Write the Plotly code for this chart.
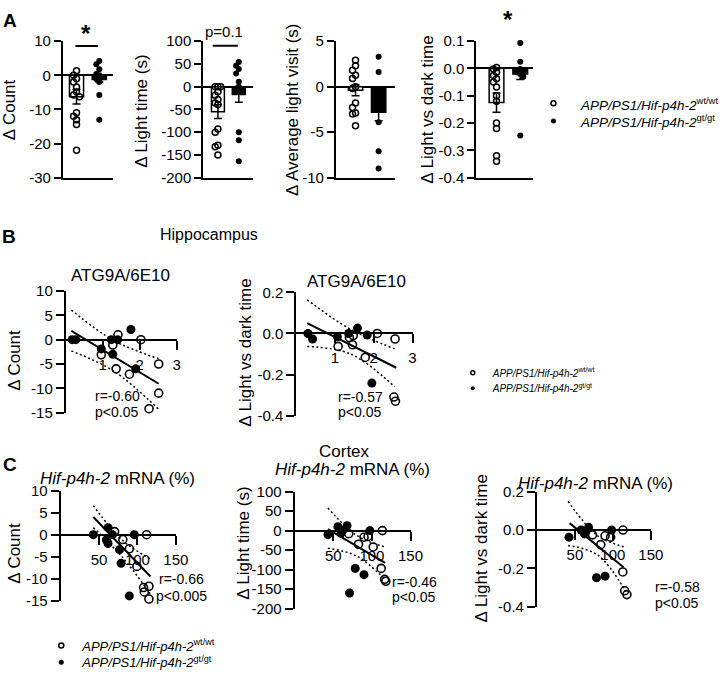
import plotly.graph_objects as go

W, H = 728, 678
FONT = "Liberation Sans, Arial, Helvetica, sans-serif"


def px(x):
    return x / W


def py(y):
    return 1 - y / H


# ======================= DATA =======================
groups = [0, 1]  # 0 = wt/wt (open), 1 = gt/gt (filled)

# ---- Panel A ----
a_count_wt = [1.3, 0.0, -1.0, -2.0, -3.4, -4.9, -5.8, -6.3, -11.0, -12.0, -13.0, -14.4, -22.0]
a_count_gt = [4.2, 3.2, 1.8, 0.4, 0.0, -0.6, -1.1, -2.0, -5.8, -13.0]
a_count_mean = [-6.3, -1.2]
a_count_sem = [2.1, 0.8]
a_count_ticks = [10, 0, -10, -20, -30]
a_count_ticktext = ["10", "0", "-10", "-20", "-30"]

a_light_wt = [0, 0, 0, -11, -19, -28, -36, -39, -93, -100, -129, -132, -150]
a_light_gt = [54, 46, 39, 29, 11, 0, -4, -7, -100, -118, -164]
a_light_mean = [-55, -17]
a_light_sem = [15, 17]
a_light_ticks = [100, 50, 0, -50, -100, -150, -200]
a_light_ticktext = ["100", "50", "0", "-50", "-100", "-150", "-200"]

a_visit_wt = [2.9, 2.3, 1.8, 1.25, 0.9, 0.0, -0.2, -1.8, -2.3, -2.9, -3.0, -4.3]
a_visit_gt = [3.3, 1.6, -3.9, -7.1, -9.0]
a_visit_mean = [-0.4, -2.8]
a_visit_sem = [0.6, 0.95]
a_visit_ticks = [5, 0, -5, -10]
a_visit_ticktext = ["5", "0", "-5", "-10"]

a_ld_wt = [0.004, -0.002, -0.014, -0.026, -0.038, -0.05, -0.068, -0.1, -0.12, -0.2, -0.22, -0.32, -0.34]
a_ld_gt = [0.093, 0.025, -0.002, -0.014, -0.02, -0.03, -0.246]
a_ld_mean = [-0.125, -0.02]
a_ld_sem = [0.035, 0.02]
a_ld_ticks = [0.1, 0.0, -0.1, -0.2, -0.3, -0.4]
a_ld_ticktext = ["0.1", "0.0", "-0.1", "-0.2", "-0.3", "-0.4"]

# ---- Panel B (Hippocampus, ATG9A/6E10) ----
b1_gt_x = [0.17, 0.27, 0.96, 1.23, 1.27, 1.40, 1.76, 1.89]
b1_gt_y = [0.0, 0.0, -1.9, 0.0, -3.0, 0.0, 2.1, -6.0]
b1_wt_x = [0.96, 1.27, 1.41, 1.36, 1.72, 2.03, 2.51, 2.51, 2.25]
b1_wt_y = [-3.1, -1.1, 1.0, -6.0, -7.1, 0.0, -5.0, -11.0, -14.2]
b1_fit_x = [0.15, 2.51]
b1_fit_y = [1.8, -9.06]
b1_ci_x = [0.15, 1.3, 2.51]
b1_ci_hi = [6.1, -0.2, -3.9]
b1_ci_lo = [-2.3, -6.5, -14.3]
b_x_ticks = [1, 2, 3]
b_x_ticktext = ["1", "2", "3"]
b1_y_ticks = [10, 5, 0, -5, -10, -15]
b1_y_ticktext = ["10", "5", "0", "-5", "-10", "-15"]

b2_gt_x = [0.30, 0.42, 1.06, 1.35, 1.58, 1.83, 1.95]
b2_gt_y = [0.0, -0.027, -0.016, 0.0, 0.026, -0.008, -0.242]
b2_wt_x = [1.08, 1.37, 1.47, 1.45, 1.78, 2.09, 2.55, 2.52, 2.56]
b2_wt_y = [-0.063, -0.02, -0.01, -0.055, -0.117, 0.0, -0.027, -0.31, -0.33]
b2_fit_x = [0.28, 2.58]
b2_fit_y = [0.05, -0.167]
b2_ci_x = [0.28, 1.4, 2.54]
b2_ci_hi = [0.164, 0.02, -0.075]
b2_ci_lo = [-0.063, -0.1, -0.26]
b2_y_ticks = [0.2, 0.0, -0.2, -0.4]
b2_y_ticktext = ["0.2", "0.0", "-0.2", "-0.4"]

# ---- Panel C (Cortex, Hif-p4h-2 mRNA %) ----
c_x_ticks = [50, 100, 150]
c_x_ticktext = ["50", "100", "150"]

c1_gt_x = [42.6, 61.8, 59.6, 61.8, 67.5, 76.7, 78.8, 95.9, 89.5]
c1_gt_y = [0.0, 1.6, -1.2, -2.0, 0.0, -3.4, -6.5, 0.0, -13.9]
c1_wt_x = [70.3, 81.0, 89.5, 99.3, 112.0, 115.0, 108.0, 109.0, 115.0]
c1_wt_y = [0.7, -1.1, -3.2, -7.2, 0.0, -11.7, -12.0, -13.0, -14.6]
c1_fit_x = [42.6, 117.0]
c1_fit_y = [4.0, -9.5]
c1_ci_x = [42.6, 80.0, 117.0]
c1_ci_hi = [6.6, -1.2, -5.5]
c1_ci_lo = [1.6, -5.0, -13.5]
c1_y_ticks = [10, 5, 0, -5, -10, -15]
c1_y_ticktext = ["10", "5", "0", "-5", "-10", "-15"]

c2_gt_x = [43.2, 56.0, 60.0, 62.0, 67.8, 78.4, 89.8, 97.4, 71.0]
c2_gt_y = [-10, 10, -7, 0, 12.5, -97, -113, 0, -160]
c2_wt_x = [70.0, 82.6, 89.8, 95.0, 101.7, 112.0, 113.5, 116.5, 118.0]
c2_wt_y = [-8, -35, -17, -15, -42, -97, 0, -125, -130]
c2_fit_x = [43.0, 117.0]
c2_fit_y = [4.0, -83.0]
c2_ci_x = [43.0, 80.0, 117.0]
c2_ci_hi = [58.0, -12.0, -42.0]
c2_ci_lo = [-45.0, -65.0, -125.0]
c2_y_ticks = [100, 50, 0, -50, -100, -150, -200]
c2_y_ticktext = ["100", "50", "0", "-50", "-100", "-150", "-200"]

c3_gt_x = [42.2, 58.2, 62.5, 68.0, 64.0, 78.4, 89.7, 98.3]
c3_gt_y = [-0.037, 0.0, -0.02, 0.014, -0.01, -0.248, -0.24, 0.0]
c3_wt_x = [73.2, 84.0, 89.7, 97.0, 113.3, 113.0, 115.5, 118.5]
c3_wt_y = [-0.025, -0.076, -0.03, -0.037, 0.0, -0.218, -0.316, -0.336]
c3_fit_x = [43.0, 114.0]
c3_fit_y = [0.036, -0.194]
c3_ci_x = [41.0, 80.0, 117.0]
c3_ci_hi = [0.149, -0.03, -0.09]
c3_ci_lo = [-0.08, -0.13, -0.32]
c3_y_ticks = [0.2, 0.0, -0.2, -0.4]
c3_y_ticktext = ["0.2", "0.0", "-0.2", "-0.4"]

legend_wt = "<i>APP/PS1/Hif-p4h-2</i><sup>wt/wt</sup>"
legend_gt = "<i>APP/PS1/Hif-p4h-2</i><sup>gt/gt</sup>"

# ======================= FIGURE =======================
fig = go.Figure()
layout = {}
annotations = []
shapes = []


def refs(n):
    return ("x" if n == 1 else f"x{n}"), ("y" if n == 1 else f"y{n}")


def keys(n):
    return ("xaxis" if n == 1 else f"xaxis{n}"), ("yaxis" if n == 1 else f"yaxis{n}")


def ann(text, x, y, size=14, **kw):
    d = dict(text=text, x=px(x), y=py(y), xref="paper", yref="paper",
             showarrow=False, font=dict(size=size, color="black", family=FONT),
             xanchor="center", yanchor="middle")
    d.update(kw)
    annotations.append(d)


def swarm(vals, span, step, gap):
    offs = []
    cands = [0, -1, 1, -2, 2, -3, 3]
    for i, v in enumerate(vals):
        taken = [o for o, w in zip(offs, vals[:i]) if abs(w - v) < gap * span]
        k = 0
        for c in cands:
            if all(abs(c * step - t) > 1e-9 for t in taken):
                k = c
                break
        offs.append(k * step)
    return offs


def bar_panel(n, xdom, ydom, xr, yr, wt, gt, mean, sem, ticks, ticktext):
    xref, yref = refs(n)
    xk, yk = keys(n)
    layout[xk] = dict(domain=[px(xdom[0]), px(xdom[1])], range=xr, anchor=yref,
                      showline=True, linecolor="black", linewidth=2, ticks="",
                      showticklabels=False, showgrid=False, zeroline=False, fixedrange=True)
    layout[yk] = dict(domain=[py(ydom[1]), py(ydom[0])], range=yr, anchor=xref,
                      showline=True, linecolor="black", linewidth=2, ticks="outside",
                      ticklen=7, tickwidth=2, tickcolor="black",
                      tickvals=ticks, ticktext=ticktext,
                      tickfont=dict(size=15, color="black", family=FONT),
                      showgrid=False, zeroline=True, zerolinecolor="black",
                      zerolinewidth=2, fixedrange=True)
    fig.add_trace(go.Bar(x=groups, y=mean, width=0.62, xaxis=xref, yaxis=yref,
                         marker=dict(color=["white", "black"], line=dict(color="black", width=1.5)),
                         error_y=dict(type="data", array=sem, color="black", thickness=1.5, width=4),
                         showlegend=False))
    span = yr[1] - yr[0]
    ow = swarm(wt, span, 0.13, 0.035)
    og = swarm(gt, span, 0.13, 0.035)
    fig.add_trace(go.Scatter(x=[groups[0] + o for o in ow], y=wt, mode="markers",
                             xaxis=xref, yaxis=yref, cliponaxis=False,
                             marker=dict(symbol="circle-open", size=6, color="black",
                                         line=dict(width=1.5, color="black")),
                             showlegend=False))
    fig.add_trace(go.Scatter(x=[groups[1] + o for o in og], y=gt, mode="markers",
                             xaxis=xref, yaxis=yref, cliponaxis=False,
                             marker=dict(symbol="circle", size=6, color="black"),
                             showlegend=False))


DOT = "2px,2.5px"


def scatter_panel(n, xdom, ydom, xr, yr, xticks, xticktext, yticks, yticktext,
                  gtx, gty, wtx, wty, fx, fy, cx, chi, clo):
    xref, yref = refs(n)
    xk, yk = keys(n)
    y0, y1 = py(ydom[1]), py(ydom[0])
    pos0 = y0 + (0 - yr[0]) / (yr[1] - yr[0]) * (y1 - y0)
    layout[xk] = dict(domain=[px(xdom[0]), px(xdom[1])], range=xr, anchor="free",
                      position=pos0, showline=True, linecolor="black", linewidth=2,
                      ticks="outside", ticklen=9, tickwidth=2, tickcolor="black",
                      tickvals=xticks, ticktext=xticktext, ticklabelstandoff=2,
                      tickfont=dict(size=15, color="black", family=FONT),
                      showgrid=False, zeroline=False, fixedrange=True)
    layout[yk] = dict(domain=[y0, y1], range=yr, anchor=xref,
                      showline=True, linecolor="black", linewidth=2, ticks="outside",
                      ticklen=8, tickwidth=2, tickcolor="black",
                      tickvals=yticks, ticktext=yticktext,
                      tickfont=dict(size=15, color="black", family=FONT),
                      showgrid=False, zeroline=False, fixedrange=True)
    for yy in (chi, clo):
        fig.add_trace(go.Scatter(x=cx, y=yy, mode="lines", xaxis=xref, yaxis=yref,
                                 line=dict(color="black", width=1.5, dash=DOT, shape="spline"),
                                 showlegend=False, cliponaxis=False))
    fig.add_trace(go.Scatter(x=fx, y=fy, mode="lines", xaxis=xref, yaxis=yref,
                             line=dict(color="black", width=2), showlegend=False,
                             cliponaxis=False))
    fig.add_trace(go.Scatter(x=wtx, y=wty, mode="markers", xaxis=xref, yaxis=yref,
                             cliponaxis=False,
                             marker=dict(symbol="circle-open", size=8, color="black",
                                         line=dict(width=1.6, color="black")),
                             showlegend=False))
    fig.add_trace(go.Scatter(x=gtx, y=gty, mode="markers", xaxis=xref, yaxis=yref,
                             cliponaxis=False,
                             marker=dict(symbol="circle", size=9, color="black"),
                             showlegend=False))


# ---- Panel A ----
AY = (33, 173)
bar_panel(1, (64, 115), AY, [-0.6, 1.6], [-30, 10], a_count_wt, a_count_gt,
          a_count_mean, a_count_sem, a_count_ticks, a_count_ticktext)
bar_panel(2, (207, 258), AY, [-0.7, 1.7], [-200, 100], a_light_wt, a_light_gt,
          a_light_mean, a_light_sem, a_light_ticks, a_light_ticktext)
bar_panel(3, (342, 402), AY, [-0.85, 1.7], [-10, 5], a_visit_wt, a_visit_gt,
          a_visit_mean, a_visit_sem, a_visit_ticks, a_visit_ticktext)
bar_panel(4, (485, 543), AY, [-0.85, 1.55], [-0.4, 0.1], a_ld_wt, a_ld_gt,
          a_ld_mean, a_ld_sem, a_ld_ticks, a_ld_ticktext)

# significance bars (axis coords) and labels (paper coords)
for n, x0, x1, yl in [(1, -0.05, 0.95, 8.6), (2, -0.25, 0.95, 90), (4, 0.0, 1.0, 0.136)]:
    xref, yref = refs(n)
    shapes.append(dict(type="line", xref=xref, yref=yref, x0=x0, x1=x1, y0=yl, y1=yl,
                       line=dict(color="black", width=2)))
ann("<b>*</b>", 88, 25, 24)
ann("p=0.1", 228, 23, 15)
ann("<b>*</b>", 517, 11, 24)

# ---- Panel B ----
scatter_panel(5, (67, 180), (289.3, 414), [0, 3], [-15, 10], b_x_ticks, b_x_ticktext,
              b1_y_ticks, b1_y_ticktext, b1_gt_x, b1_gt_y, b1_wt_x, b1_wt_y,
              b1_fit_x, b1_fit_y, b1_ci_x, b1_ci_hi, b1_ci_lo)
scatter_panel(6, (301.7, 420), (290.7, 417), [0, 3], [-0.4, 0.2], b_x_ticks, b_x_ticktext,
              b2_y_ticks, b2_y_ticktext, b2_gt_x, b2_gt_y, b2_wt_x, b2_wt_y,
              b2_fit_x, b2_fit_y, b2_ci_x, b2_ci_hi, b2_ci_lo)

# ---- Panel C ----
scatter_panel(7, (61.7, 179), (494, 607), [0, 150], [-15, 10], c_x_ticks, c_x_ticktext,
              c1_y_ticks, c1_y_ticktext, c1_gt_x, c1_gt_y, c1_wt_x, c1_wt_y,
              c1_fit_x, c1_fit_y, c1_ci_x, c1_ci_hi, c1_ci_lo)
scatter_panel(8, (300, 418), (495, 615), [0, 150], [-200, 100], c_x_ticks, c_x_ticktext,
              c2_y_ticks, c2_y_ticktext, c2_gt_x, c2_gt_y, c2_wt_x, c2_wt_y,
              c2_fit_x, c2_fit_y, c2_ci_x, c2_ci_hi, c2_ci_lo)
scatter_panel(9, (546.7, 662.7), (495, 613.3), [0, 150], [-0.4, 0.2], c_x_ticks, c_x_ticktext,
              c3_y_ticks, c3_y_ticktext, c3_gt_x, c3_gt_y, c3_wt_x, c3_wt_y,
              c3_fit_x, c3_fit_y, c3_ci_x, c3_ci_hi, c3_ci_lo)

# ---- Legends: one legend per row for exact placement ----
# (legend id, label, filled?, marker size, font size, marker x px, row y px, itemwidth, text-as-annotation?)
legend_rows = [
    ("legend", legend_wt, False, 5, 13.5, 563, 97, 46, True),
    ("legend2", legend_gt, True, 5, 13.5, 563, 115, 46, True),
    ("legend3", legend_wt, False, 4, 10, 481, 373, 30, False),
    ("legend4", legend_gt, True, 4, 10, 481, 389, 30, False),
    ("legend5", legend_wt, False, 5, 13, 62, 653, 32, False),
    ("legend6", legend_gt, True, 5, 13, 62, 670, 32, False),
]
for lg, name, filled, msz, fsz, mx, ry, iw, as_ann in legend_rows:
    if filled:
        mk = dict(symbol="circle", size=msz, color="black")
    else:
        mk = dict(symbol="circle-open", size=msz, color="black", line=dict(width=1.5, color="black"))
    fig.add_trace(go.Scatter(x=[None], y=[None], mode="markers",
                             name=(" " if as_ann else name), legend=lg,
                             marker=mk, showlegend=True))
    layout[lg] = dict(x=px(mx - (iw + 10) / 2), y=py(ry), xanchor="left", yanchor="middle",
                      itemwidth=iw, bgcolor="rgba(0,0,0,0)", borderwidth=0,
                      font=dict(size=fsz, color="black", family=FONT))
    if as_ann:
        # panel A legend label drawn as text beside its legend symbol so it can
        # run up to the right edge of the figure, as in the reference
        ann(name, mx + 25, ry, fsz, xanchor="left")

# ---- Text ----
ann("<b>A</b>", 10, 12, 19)
ann("<b>B</b>", 9, 233, 19)
ann("<b>C</b>", 10, 467, 19)

# y-axis titles
ann("Δ Count", 10, 103, 17, textangle=-90)
ann("Δ Light time (s)", 144, 105, 17, textangle=-90)
ann("Δ Average light visit (s)", 298, 103, 17, textangle=-90)
ann("Δ Light vs dark time", 435, 103, 17, textangle=-90)
ann("Δ Count", 15, 360, 17, textangle=-90)
ann("Δ Light vs dark time", 250, 353, 17, textangle=-90)
ann("Δ Count", 14, 558, 17, textangle=-90)
ann("Δ Light time (s)", 248, 548, 17, textangle=-90)
ann("Δ Light vs dark time", 490, 553, 17, textangle=-90)

# subplot titles
ann("Hippocampus", 213, 231, 16)
ann("ATG9A/6E10", 123, 273, 17)
ann("ATG9A/6E10", 363, 280, 17)
ann("<i>Hif-p4h-2</i> mRNA (%)", 120, 482, 17)
ann("Cortex", 351, 454, 17)
ann("<i>Hif-p4h-2</i> mRNA (%)", 359, 472, 17)
ann("<i>Hif-p4h-2</i> mRNA (%)", 606, 487, 17)

# statistics
ann("r=-0.60", 95, 397, 14, xanchor="left")
ann("p&lt;0.05", 95, 413, 14, xanchor="left")
ann("r=-0.57", 342, 398, 14, xanchor="left")
ann("p&lt;0.05", 342, 413, 14, xanchor="left")
ann("r=-0.66", 160, 585, 14, xanchor="left")
ann("p&lt;0.005", 157, 602, 14, xanchor="left")
ann("r=-0.46", 397, 588, 14, xanchor="left")
ann("p&lt;0.05", 397, 603, 14, xanchor="left")
ann("r=-0.58", 665, 593, 14, xanchor="left")
ann("p&lt;0.05", 665, 609, 14, xanchor="left")

fig.update_layout(
    width=W, height=H,
    margin=dict(l=0, r=0, t=0, b=0),
    paper_bgcolor="white", plot_bgcolor="white",
    font=dict(family=FONT, color="black"),
    barmode="overlay",
    annotations=annotations, shapes=shapes,
    **layout,
)

fig.write_html("out.html")
